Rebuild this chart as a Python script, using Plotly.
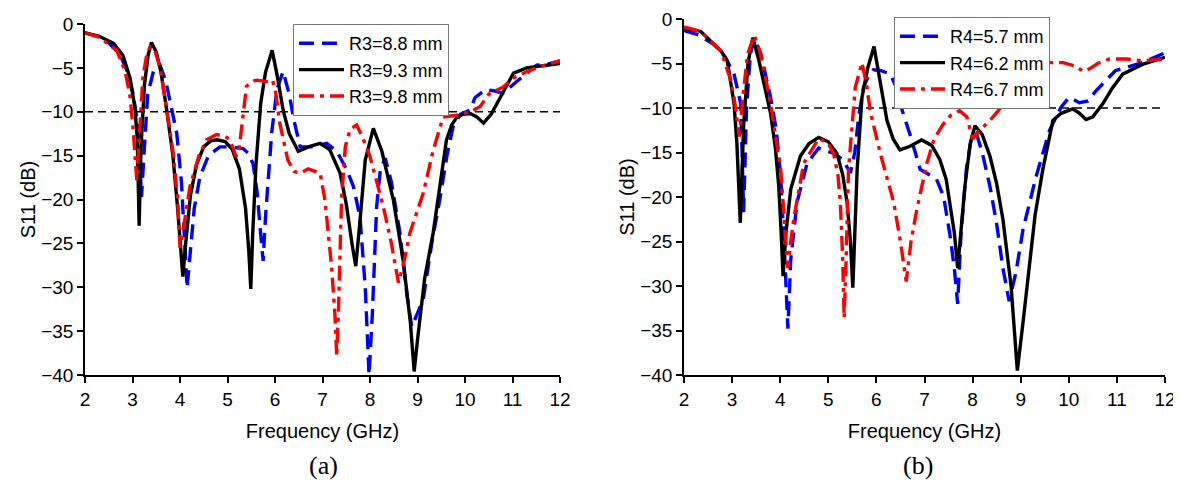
import plotly.graph_objects as go

# ---------------- data ----------------
freq_span = [2, 12]
threshold_db = -10
x_ticks = [2, 3, 4, 5, 6, 7, 8, 9, 10, 11, 12]
y_ticks = [0, -5, -10, -15, -20, -25, -30, -35, -40]

# (a) R3 variation
freq_a_r88 = [2.0, 2.4, 2.74, 2.9, 3.01, 3.1, 3.15, 3.19, 3.24, 3.32, 3.45, 3.58, 3.7, 3.8, 3.93, 4.03, 4.1, 4.15, 4.2, 4.3,
              4.42, 4.6, 4.84, 5.05, 5.33, 5.45, 5.54, 5.62, 5.7, 5.75, 5.8, 5.88, 5.93, 6.04, 6.17, 6.3, 6.4, 6.53, 6.8, 7.09,
              7.3, 7.51, 7.65, 7.79, 7.9, 7.98, 8.05, 8.14, 8.22, 8.32, 8.45, 8.63, 8.78, 8.88, 9.0, 9.12, 9.3, 9.47, 9.62, 9.75,
              9.9, 10.11, 10.21, 10.42, 10.6, 10.8, 11.1, 11.51, 11.8, 12.0]
s11_a_r88 = [-1.0, -1.6, -3.5, -5.5, -7.9, -11, -15, -19.7, -15, -8, -5.2, -4.7, -6.5, -9, -12.4, -18, -25, -30.1, -27, -21,
             -17.4, -15, -14, -14, -14.2, -14.8, -16, -19, -24, -27, -22, -16, -12.4, -7.5, -5.4, -8, -11, -14, -14, -13.6,
             -14.5, -16.6, -18.5, -22, -30, -40, -33, -20.8, -16.5, -15.3, -18, -23.8, -31, -34.5, -33, -31.4, -25, -20, -15, -11.7,
             -10.3, -9.8, -8.4, -7.5, -7.6, -7.9, -6.5, -4.7, -4.5, -4.2]

freq_a_r93 = [2.0, 2.3, 2.6, 2.8, 2.95, 3.05, 3.1, 3.14, 3.18, 3.25, 3.33, 3.40, 3.5, 3.6, 3.72, 3.85, 3.95, 4.02, 4.06, 4.12,
              4.22, 4.35, 4.5, 4.65, 4.78, 4.95, 5.1, 5.25, 5.38, 5.45, 5.49, 5.53, 5.6, 5.7, 5.8, 5.94, 6.05, 6.17, 6.3, 6.49,
              6.7, 6.95, 7.15, 7.37, 7.5, 7.62, 7.70, 7.78, 7.9, 8.07, 8.25, 8.49, 8.7, 8.85, 8.93, 9.0, 9.15, 9.33, 9.5, 9.61,
              9.72, 9.82, 9.95, 10.11, 10.25, 10.39, 10.55, 10.8, 11.02, 11.3, 11.6, 12.0]
s11_a_r93 = [-1.0, -1.4, -2.2, -3.6, -6.2, -9.5, -13, -23, -14, -7, -3.5, -2.1, -3.2, -5.5, -9.8, -15, -21, -26, -28.8, -25,
             -19.5, -16, -14, -13.3, -13.2, -13.4, -14.3, -16.5, -21, -26, -30.2, -24, -16, -9, -5.5, -3.0, -6, -9.8, -12.5, -14.5,
             -14, -13.6, -14.3, -17, -20.5, -25, -27.6, -23, -15.5, -11.9, -14.5, -20, -27, -34, -39.6, -36, -29, -23.8, -17, -13.2,
             -11.5, -10.7, -10.3, -10.2, -10.6, -11.3, -10.3, -7.8, -5.6, -5.0, -4.8, -4.5]

freq_a_r98 = [2.0, 2.3, 2.67, 2.85, 2.95, 3.02, 3.09, 3.15, 3.22, 3.3, 3.37, 3.48, 3.58, 3.7, 3.85, 3.95, 4.0, 4.08, 4.21, 4.4,
              4.56, 4.77, 4.95, 5.05, 5.18, 5.25, 5.3, 5.4, 5.5, 5.61, 5.75, 5.89, 5.95, 6.02, 6.1, 6.27, 6.4, 6.53, 6.7, 6.85,
              6.95, 7.05, 7.19, 7.26, 7.30, 7.34, 7.40, 7.48, 7.58, 7.72, 7.85, 8.0, 8.28, 8.45, 8.6, 8.72, 8.84, 9.12, 9.33, 9.54,
              9.82, 10.11, 10.32, 10.5, 10.8, 11.0, 11.4, 11.8, 12.0]
s11_a_r98 = [-1.0, -1.5, -3.0, -5.5, -8.3, -12.5, -17.8, -12, -6, -3.5, -2.6, -3.2, -4.9, -9, -14.4, -20, -25.5, -23, -18.5, -15,
             -13.2, -12.6, -12.8, -13.2, -15.1, -14, -11.7, -7.1, -6.6, -6.4, -6.5, -6.6, -6.4, -8, -11.3, -15.5, -16.8, -17, -16.5, -16.8,
             -17, -20, -27.6, -33, -37.9, -32, -20, -14, -12, -11.5, -13, -15.1, -20.8, -25, -29.5, -27, -23.8, -19.3, -14.4, -10.6,
             -10.4, -10, -9.4, -8, -7.2, -6.2, -5.2, -4.5, -4.2]

# (b) R4 variation
freq_b_r57 = [2.0, 2.3, 2.63, 2.85, 3.04, 3.12, 3.18, 3.24, 3.3, 3.38, 3.46, 3.6, 3.8, 3.92, 4.01, 4.08, 4.16, 4.22, 4.35, 4.56,
              4.80, 5.11, 5.3, 5.46, 5.55, 5.63, 5.73, 5.85, 5.94, 6.1, 6.29, 6.4, 6.49, 6.7, 6.91, 7.1, 7.25, 7.4, 7.53, 7.62,
              7.69, 7.76, 7.87, 7.97, 8.08, 8.2, 8.36, 8.5, 8.63, 8.76, 8.9, 9.05, 9.32, 9.6, 9.84, 10.01, 10.22, 10.4, 10.56, 10.97,
              11.53, 12.0]
s11_b_r57 = [-1.3, -1.8, -2.9, -4.2, -6.2, -8, -9.5, -21.7, -10, -4, -2.1, -4, -8.8, -12.5, -17.7, -25, -34.8, -27, -20.6, -16.2,
             -14.5, -15.1, -15.8, -17.3, -15, -11, -7.7, -6.2, -5.7, -5.8, -6.2, -7.5, -9.5, -13, -16.9, -17.5, -18, -20, -24.3, -28,
             -32, -24, -16.9, -13.5, -12.9, -15, -18.8, -23, -28, -31.7, -28.5, -23.6, -17.7, -12.5, -9.9, -8.8, -9.4, -9.2, -8.1, -5.8,
             -4.9, -3.8]

freq_b_r62 = [2.0, 2.35, 2.77, 2.9, 3.04, 3.1, 3.17, 3.24, 3.33, 3.43, 3.55, 3.68, 3.80, 3.9, 3.97, 4.02, 4.06, 4.12, 4.22, 4.42,
              4.6, 4.80, 5.0, 5.18, 5.3, 5.39, 5.46, 5.51, 5.56, 5.60, 5.70, 5.82, 5.95, 6.08, 6.22, 6.35, 6.49, 6.7, 6.94, 7.15,
              7.32, 7.45, 7.53, 7.62, 7.69, 7.76, 7.84, 7.95, 8.05, 8.2, 8.36, 8.5, 8.63, 8.8, 8.93, 9.05, 9.18, 9.3, 9.46, 9.67,
              9.84, 10.08, 10.2, 10.36, 10.5, 10.71, 10.9, 11.12, 11.53, 12.0]
s11_b_r62 = [-1.0, -1.4, -3.6, -4.7, -9.5, -14, -22.9, -12, -5, -2.1, -4.5, -7.5, -10.6, -14.5, -18.8, -24, -28.9, -24, -19.1, -15.4,
             -14, -13.3, -13.8, -15.1, -17.5, -20.6, -25, -30.2, -24, -16.9, -8.8, -5.5, -3.1, -7, -11.4, -13.5, -14.7, -14.3, -13.6, -14.2,
             -15.8, -18, -20.6, -24, -28, -24, -18.8, -14, -12.0, -13, -15.4, -18.5, -22.5, -30, -39.5, -34, -27.3, -22, -16.9, -11.4,
             -10.6, -10.1, -10.5, -11.3, -11, -9.5, -7.8, -6.2, -5.1, -4.3]

freq_b_r67 = [2.0, 2.35, 2.77, 2.95, 3.04, 3.1, 3.15, 3.22, 3.32, 3.46, 3.6, 3.8, 3.92, 4.01, 4.11, 4.16, 4.22, 4.28, 4.49, 4.80,
              5.0, 5.11, 5.2, 5.25, 5.30, 5.33, 5.37, 5.42, 5.56, 5.70, 5.80, 5.87, 6.08, 6.25, 6.36, 6.5, 6.62, 6.72, 6.84, 7.05,
              7.2, 7.39, 7.55, 7.73, 7.88, 8.0, 8.15, 8.36, 8.7, 9.05, 9.32, 9.6, 9.88, 10.15, 10.3, 10.43, 10.6, 10.84, 11.2, 11.53,
              12.0]
s11_b_r67 = [-0.9, -1.4, -3.6, -6.5, -8.8, -11, -13.2, -9, -4, -1.8, -4, -9.5, -13.5, -16.9, -24.3, -28, -25, -22.5, -16.2, -13.4,
             -14, -15.1, -17.5, -20.6, -27, -33.6, -27, -16.9, -7.7, -4.9, -7.5, -10.3, -15.1, -18.5, -20.6, -25, -29.5, -25, -21.4, -16.2,
             -13.5, -11.8, -10.8, -10.3, -11, -13.5, -12.5, -11.4, -9.2, -7, -5.5, -4.9, -4.9, -5.3, -5.9, -5.6, -5.0, -4.5, -4.5, -4.7,
             -4.5]

labels_a = ["R3=8.8 mm", "R3=9.3 mm", "R3=9.8 mm"]
labels_b = ["R4=5.7 mm", "R4=6.2 mm", "R4=6.7 mm"]
panel_labels = ["(a)", "(b)"]

# ---------------- styling ----------------
# The page body adds an 8 px offset, so the figure is sized to fill the rest of the window.
OFFSET = 8
WIN_W, WIN_H = 1181, 490
W, H = WIN_W - OFFSET, WIN_H - OFFSET
BLUE, BLACK, RED = "#0000FF", "#000000", "#FF0000"
styles = [
    dict(color=BLUE, width=3.4, dash="15px,8px"),
    dict(color=BLACK, width=3.4, dash="solid"),
    dict(color=RED, width=3.4, dash="15px,6px,4px,6px"),
]
FONT = "Liberation Sans, Arial, sans-serif"
SERIF = "Liberation Serif, Times New Roman, serif"

fig = go.Figure()

panels = [
    ("x", "y", "legend", labels_a,
     [(freq_a_r88, s11_a_r88), (freq_a_r93, s11_a_r93), (freq_a_r98, s11_a_r98)]),
    ("x2", "y2", "legend2", labels_b,
     [(freq_b_r57, s11_b_r57), (freq_b_r62, s11_b_r62), (freq_b_r67, s11_b_r67)]),
]

for xa, ya, leg, labels, series in panels:
    fig.add_trace(go.Scatter(
        x=freq_span, y=[threshold_db, threshold_db], mode="lines",
        line=dict(color="black", width=1.6, dash="8px,5px"),
        xaxis=xa, yaxis=ya, showlegend=False, hoverinfo="skip"))
    for (fx, fy), name, st in zip(series, labels, styles):
        fig.add_trace(go.Scatter(
            x=fx, y=fy, mode="lines", name=name, line=st,
            xaxis=xa, yaxis=ya, legend=leg))


def px_x(p):
    return (p - OFFSET) / W


def px_y(p):
    return 1 - (p - OFFSET) / H


axis_common = dict(
    showline=True, linecolor="black", linewidth=1.5, mirror=False,
    showgrid=False, zeroline=False, ticks="outside", ticklen=6,
    tickwidth=1.5, tickcolor="black", ticklabeloverflow="allow",
    tickfont=dict(family=FONT, size=19, color="black"),
)
title_font = dict(family=FONT, size=20, color="black")
legend_common = dict(xanchor="left", yanchor="top", bgcolor="white",
                     bordercolor="#777777", borderwidth=1, itemwidth=45,
                     font=dict(family=FONT, size=18, color="black"), tracegroupgap=0)

fig.update_layout(
    width=W, height=H,
    margin=dict(l=0, r=0, t=0, b=0),
    paper_bgcolor="white", plot_bgcolor="white",
    font=dict(family=FONT, color="black"),
    xaxis=dict(domain=[px_x(85), px_x(560)], anchor="y", range=freq_span,
               tickvals=x_ticks, automargin=False,
               title=dict(text="Frequency (GHz)", font=title_font, standoff=15),
               **axis_common),
    yaxis=dict(domain=[px_y(375), px_y(24)], anchor="x", range=[-40, 0],
               tickvals=y_ticks, automargin=False,
               title=dict(text="S11 (dB)", font=title_font, standoff=0),
               **axis_common),
    xaxis2=dict(domain=[px_x(684), px_x(1165)], anchor="y2", range=freq_span,
                tickvals=x_ticks, automargin=False,
                title=dict(text="Frequency (GHz)", font=title_font, standoff=15),
                **axis_common),
    yaxis2=dict(domain=[px_y(375), px_y(19)], anchor="x2", range=[-40, 0],
                tickvals=y_ticks, automargin=False,
                title=dict(text="S11 (dB)", font=title_font, standoff=0),
                **axis_common),
    legend=dict(x=px_x(293), y=px_y(24), **legend_common),
    legend2=dict(x=px_x(894), y=px_y(17), **legend_common),
    showlegend=True,
)

for lbl, cx in zip(panel_labels, [323, 918]):
    fig.add_annotation(text=lbl, x=px_x(cx), y=px_y(465), xref="paper", yref="paper",
                       xanchor="center", yanchor="middle", showarrow=False,
                       font=dict(family=SERIF, size=26, color="black"))

fig.write_html("out.html")
